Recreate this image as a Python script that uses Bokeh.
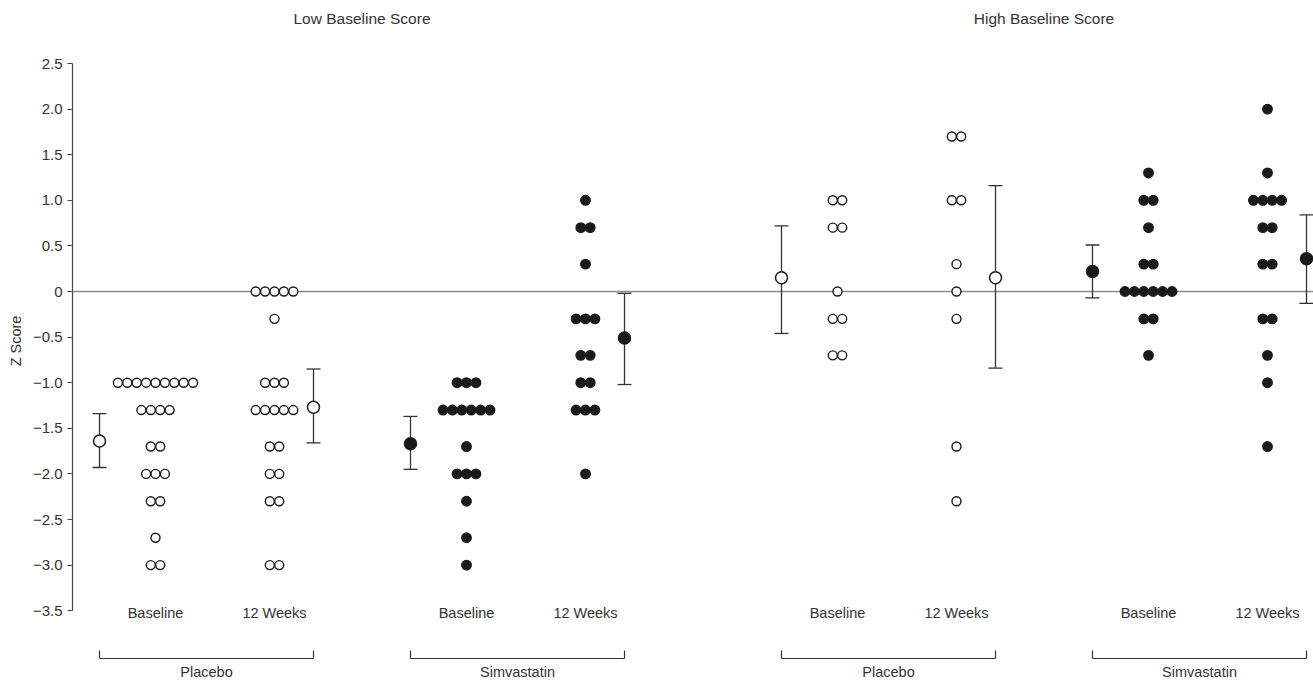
from bokeh.plotting import figure
from bokeh.models import FixedTicker
from bokeh.core.properties import value
from bokeh.embed import file_html
from bokeh.resources import INLINE

# ---------------- data (Z scores) ----------------
low_placebo_baseline = [-1.0]*9 + [-1.3]*4 + [-1.7]*2 + [-2.0]*3 + [-2.3]*2 + [-2.7] + [-3.0]*2
low_placebo_12wk = [0.0]*5 + [-0.3] + [-1.0]*3 + [-1.3]*5 + [-1.7]*2 + [-2.0]*2 + [-2.3]*2 + [-3.0]*2
low_simva_baseline = [-1.0]*3 + [-1.3]*6 + [-1.7] + [-2.0]*3 + [-2.3] + [-2.7] + [-3.0]
low_simva_12wk = [1.0] + [0.7]*2 + [0.3] + [-0.3]*3 + [-0.7]*2 + [-1.0]*2 + [-1.3]*3 + [-2.0]
high_placebo_baseline = [1.0]*2 + [0.7]*2 + [0.0] + [-0.3]*2 + [-0.7]*2
high_placebo_12wk = [1.7]*2 + [1.0]*2 + [0.3] + [0.0] + [-0.3] + [-1.7] + [-2.3]
high_simva_baseline = [1.3] + [1.0]*2 + [0.7] + [0.3]*2 + [0.0]*6 + [-0.3]*2 + [-0.7]
high_simva_12wk = [2.0] + [1.3] + [1.0]*4 + [0.7]*2 + [0.3]*2 + [-0.3]*2 + [-0.7] + [-1.0] + [-1.7]

columns = [low_placebo_baseline, low_placebo_12wk, low_simva_baseline, low_simva_12wk,
           high_placebo_baseline, high_placebo_12wk, high_simva_baseline, high_simva_12wk]
column_filled = [False, False, True, True, False, False, True, True]

# mean and error bar per column
means = [-1.64, -1.27, -1.67, -0.51, 0.15, 0.15, 0.22, 0.36]
err_hi = [-1.34, -0.85, -1.37, -0.02, 0.72, 1.16, 0.51, 0.84]
err_lo = [-1.93, -1.66, -1.95, -1.02, -0.46, -0.84, -0.07, -0.13]

time_labels = ["Baseline", "12 Weeks"]
treatments = ["Placebo", "Simvastatin", "Placebo", "Simvastatin"]
panel_titles = ["Low Baseline Score", "High Baseline Score"]
y_ticks = [-3.5, -3.0, -2.5, -2.0, -1.5, -1.0, -0.5, 0.0, 0.5, 1.0, 1.5, 2.0, 2.5]

# ---------------- layout (x data units == pixels) ----------------
GROUP_X = [155, 466, 837, 1148]   # baseline column centre of each treatment group
WEEK_GAP = 119                     # baseline -> 12 weeks column
MEAN_LEFT = -56                    # baseline mean marker offset
MEAN_RIGHT = 39                    # 12 weeks mean marker offset
DOT_STEP = 9.4
AXIS_X = 72
X_START, X_END = 70, 1313

ZERO_PX = 291.0
PX_PER_UNIT = 91.2
W, H = 1313, 681


def ypx(py):
    return (ZERO_PX - py) / PX_PER_UNIT

TOP = ypx(0)
BOTTOM = ypx(H)

INK = "#1a1a1a"
TEXT = "#333333"
FONT = value("Liberation Sans")
LABEL_SIZE = "14.5px"

p = figure(width=W, height=H, x_range=(X_START, X_END), y_range=(BOTTOM, TOP),
           output_backend="svg", toolbar_location=None,
           min_border_left=X_START, min_border_right=0, min_border_top=0, min_border_bottom=0)
p.xaxis.visible = False
p.xgrid.visible = False
p.ygrid.visible = False
p.outline_line_color = None
p.background_fill_color = "white"
p.border_fill_color = "white"

ax = p.yaxis[0]
ax.ticker = FixedTicker(ticks=y_ticks)
ax.major_label_overrides = {t: (("\u2212" if t < 0 else "") + ("0" if t == 0 else f"{abs(t):.1f}")) for t in y_ticks}
ax.axis_line_color = None
ax.major_tick_out = 3
ax.major_tick_in = 2
ax.major_tick_line_color = "#444444"
ax.minor_tick_line_color = None
ax.major_label_text_font = "Liberation Sans"
ax.major_label_text_font_size = "15px"
ax.major_label_text_color = TEXT
ax.major_label_standoff = 5
ax.axis_label = "Z Score"
ax.axis_label_text_font = "Liberation Sans"
ax.axis_label_text_font_size = "14.5px"
ax.axis_label_text_font_style = "normal"
ax.axis_label_text_color = TEXT
ax.axis_label_standoff = 6

# axis line and zero line
p.segment(x0=[AXIS_X], y0=[y_ticks[0]], x1=[AXIS_X], y1=[y_ticks[-1]], line_color="#444444", line_width=1.2)
p.segment(x0=[AXIS_X], y0=[0], x1=[X_END], y1=[0], line_color="#8a8a8a", line_width=1.6)

# column centres
col_x = []
mean_x = []
for g in GROUP_X:
    col_x += [g, g + WEEK_GAP]
    mean_x += [g + MEAN_LEFT, g + WEEK_GAP + MEAN_RIGHT]

# error bars
CAP = 7
p.segment(x0=mean_x, y0=err_lo, x1=mean_x, y1=err_hi, line_color="#333333", line_width=1.3)
p.segment(x0=[x - CAP for x in mean_x], y0=err_lo, x1=[x + CAP for x in mean_x], y1=err_lo,
          line_color="#333333", line_width=1.3)
p.segment(x0=[x - CAP for x in mean_x], y0=err_hi, x1=[x + CAP for x in mean_x], y1=err_hi,
          line_color="#333333", line_width=1.3)

# individual dots, rows centred on column
for cx, vals, filled in zip(col_x, columns, column_filled):
    xs, ys = [], []
    for v in sorted(set(vals), reverse=True):
        n = vals.count(v)
        for i in range(n):
            xs.append(cx + (i - (n - 1) / 2) * DOT_STEP)
            ys.append(v)
    p.scatter(xs, ys, marker="circle", size=9 if not filled else 9.5,
              fill_color=INK if filled else "white", line_color=INK, line_width=1.4)

# mean markers
p.scatter(mean_x, means, marker="circle", size=12,
          fill_color=[INK if f else "white" for f in column_filled], line_color=INK, line_width=1.5)

# column labels
p.text(x=col_x, y=[ypx(612)] * len(col_x), text=time_labels * 4, text_font=FONT,
       text_font_size=LABEL_SIZE, text_color=TEXT, text_align="center", text_baseline="middle")

# brackets
br_left = [g + MEAN_LEFT for g in GROUP_X]
br_right = [g + WEEK_GAP + MEAN_RIGHT for g in GROUP_X]
yb, yt = ypx(658), ypx(650)
p.segment(x0=br_left, y0=[yb] * 4, x1=br_right, y1=[yb] * 4, line_color="#333333", line_width=1.2)
p.segment(x0=br_left, y0=[yb] * 4, x1=br_left, y1=[yt] * 4, line_color="#333333", line_width=1.2)
p.segment(x0=br_right, y0=[yb] * 4, x1=br_right, y1=[yt] * 4, line_color="#333333", line_width=1.2)
p.text(x=[(a + b) / 2 for a, b in zip(br_left, br_right)], y=[ypx(671)] * 4, text=treatments,
       text_font=FONT, text_font_size=LABEL_SIZE, text_color=TEXT, text_align="center", text_baseline="middle")

# panel titles centred over each pair of groups
title_x = [(br_left[0] + br_right[1]) / 2, (br_left[2] + br_right[3]) / 2]
p.text(x=title_x, y=[ypx(18)] * 2, text=panel_titles, text_font=FONT, text_font_size="15.5px",
       text_color=TEXT, text_align="center", text_baseline="middle")

open("out.html", "w").write(file_html(p, INLINE))
